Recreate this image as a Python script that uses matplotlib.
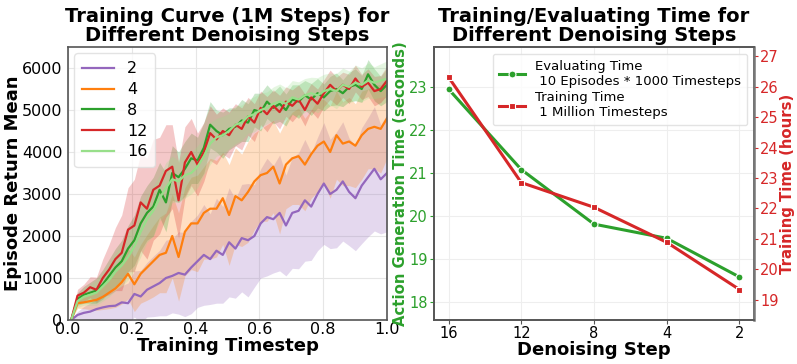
import numpy as np
import matplotlib
matplotlib.use("Agg")
import matplotlib.pyplot as plt

# ---------------- data: left panel ----------------
steps_labels = ["2", "4", "8", "12", "16"]
t = np.linspace(0.01, 1.0, 51)

mean_2 = [0, 120, 170, 200, 260, 300, 330, 340, 420, 400, 620, 560, 720, 800, 880, 1000, 1050, 1120,
          1080, 1250, 1400, 1550, 1450, 1650, 1550, 1850, 1700, 1950, 1900, 2000, 2300, 2450, 2400,
          2550, 2250, 2550, 2600, 2850, 2700, 3000, 3250, 3000, 3100, 3300, 3050, 2900, 3200, 3400,
          3600, 3350, 3500]
std_2 = [0, 80, 150, 200, 250, 300, 320, 380, 400, 480, 550, 620, 650, 720, 780, 900, 880, 980, 1000,
         1100, 1100, 1200, 1080, 1250, 1150, 1300, 1180, 1280, 1350, 1220, 1300, 1400, 1280, 1380,
         1200, 1320, 1380, 1450, 1280, 1350, 1450, 1300, 1380, 1420, 1280, 1250, 1380, 1420, 1480,
         1300, 1400]

mean_4 = [0, 400, 420, 450, 480, 550, 650, 750, 900, 1100, 850, 1100, 1250, 1400, 1550, 1600, 2000,
          1500, 2100, 2300, 2300, 2550, 2650, 2650, 2900, 2500, 2950, 2850, 3050, 3300, 3450, 3500,
          3650, 3250, 3700, 3850, 3900, 3700, 3950, 4150, 4250, 4000, 4400, 4200, 4250, 4150, 4400,
          4550, 4600, 4550, 4800]
std_4 = [0, 120, 150, 200, 250, 300, 380, 450, 520, 600, 650, 700, 780, 850, 900, 950, 1000, 1050,
         1050, 1100, 1150, 1100, 1200, 1150, 1100, 1200, 1150, 1100, 1200, 1150, 1100, 1150, 1100,
         1200, 1050, 1100, 1150, 1100, 1050, 1100, 1000, 1100, 1050, 1000, 1050, 1000, 1050, 950,
         1000, 1050, 950]

mean_8 = [0, 500, 600, 650, 700, 850, 1050, 1250, 1400, 1700, 1900, 2300, 2550, 2700, 3100, 2800,
          3500, 3400, 3600, 3850, 3800, 4100, 4650, 4500, 4400, 4550, 4600, 4750, 4700, 5000, 4950,
          5200, 5050, 5150, 5000, 5250, 5200, 5350, 5250, 5400, 5300, 5450, 5500, 5400, 5550, 5600,
          5500, 5850, 5600, 5450, 5600]
std_8 = [0, 150, 200, 250, 300, 350, 400, 450, 500, 550, 600, 650, 650, 700, 650, 700, 650, 600, 650,
         600, 550, 600, 550, 500, 550, 500, 450, 500, 450, 400, 450, 400, 380, 420, 380, 350, 400,
         350, 380, 350, 320, 350, 380, 320, 350, 380, 320, 350, 380, 350, 400]

mean_12 = [0, 580, 650, 780, 720, 1000, 1200, 1450, 1600, 2150, 2250, 2800, 2650, 3100, 3200, 3550,
           3650, 2850, 3750, 4000, 3700, 4000, 4450, 4300, 4500, 4400, 4650, 4550, 4850, 4700, 5050,
           4900, 5100, 4950, 5200, 5100, 5250, 5000, 5300, 5150, 5400, 5600, 5450, 5600, 5500, 5750,
           5550, 5650, 5450, 5500, 5700]
std_12 = [0, 150, 200, 250, 300, 450, 600, 750, 900, 1000, 1100, 1150, 1200, 1200, 1150, 1100, 1000,
          900, 850, 800, 750, 700, 650, 600, 550, 550, 500, 500, 450, 450, 400, 420, 380, 400, 350,
          380, 350, 380, 330, 350, 320, 350, 330, 300, 350, 320, 300, 330, 350, 320, 350]

mean_16 = [0, 450, 550, 600, 650, 800, 950, 1150, 1300, 1500, 1750, 2100, 2400, 2600, 2900, 3150,
           3350, 3300, 3450, 3500, 3650, 3900, 4200, 4350, 4400, 4500, 4650, 4700, 4850, 4900, 5000,
           5050, 5150, 5200, 5150, 5300, 5250, 5350, 5400, 5350, 5450, 5500, 5450, 5600, 5550, 5650,
           5600, 5700, 5650, 5700, 5750]
std_16 = [0, 150, 200, 250, 300, 350, 400, 450, 500, 550, 550, 600, 550, 600, 550, 600, 550, 500,
          550, 500, 500, 450, 500, 450, 450, 420, 450, 420, 400, 420, 400, 380, 400, 420, 380, 400,
          420, 400, 380, 420, 400, 380, 420, 400, 380, 420, 400, 420, 380, 400, 420]

means = [mean_2, mean_4, mean_8, mean_12, mean_16]
stds = [std_2, std_4, std_8, std_12, std_16]
colors = ["#9467bd", "#ff7f0e", "#2ca02c", "#d62728", "#98df8a"]

# ---------------- data: right panel ----------------
denoise_steps = ["16", "12", "8", "4", "2"]
eval_time = [22.95, 21.08, 19.81, 19.48, 18.58]
train_time = [26.31, 22.85, 22.04, 20.89, 19.34]

green = "#2ca02c"
red = "#d62728"
spine_col = "#555555"

fig = plt.figure(figsize=(7.97, 3.64), dpi=100)
ax1 = fig.add_axes([68 / 797, 44 / 364, 319 / 797, 273 / 364])
ax2 = fig.add_axes([434 / 797, 44 / 364, 320 / 797, 273 / 364])

# ---- left ----
for lab, m, s, c in zip(steps_labels, means, stds, colors):
    m = np.asarray(m, float)
    s = np.asarray(s, float)
    ax1.fill_between(t, m - s, m + s, color=c, alpha=0.25, linewidth=0)
for lab, m, c in zip(steps_labels, means, colors):
    ax1.plot(t, m, color=c, lw=1.6, label=lab)

ax1.set_xlim(0, 1.0)
ax1.set_ylim(0, 6500)
ax1.set_xticks([0.0, 0.2, 0.4, 0.6, 0.8, 1.0])
ax1.set_yticks([0, 1000, 2000, 3000, 4000, 5000, 6000])
ax1.tick_params(axis="x", labelsize=11.5, length=0, pad=1.5)
ax1.tick_params(axis="y", labelsize=11.5, length=0, pad=4)
ax1.grid(True, color="#e6e6e6", lw=0.8)
ax1.set_axisbelow(True)
ax1.set_xlabel("Training Timestep", fontsize=13, fontweight="bold", labelpad=0)
ax1.set_ylabel("Episode Return Mean", fontsize=13, fontweight="bold", labelpad=0)
ax1.set_title("Training Curve (1M Steps) for\nDifferent Denoising Steps", fontsize=14,
              fontweight="bold", pad=4, linespacing=1.0)
leg = ax1.legend(loc="upper left", fontsize=11.5, frameon=True, handlelength=2.0,
                 borderpad=0.5, labelspacing=0.36, borderaxespad=0.4)
leg.get_frame().set_edgecolor("#dddddd")
for sp in ax1.spines.values():
    sp.set_color(spine_col)
    sp.set_linewidth(1.2)

# ---- right ----
xpos = np.arange(len(denoise_steps))
ln1, = ax2.plot(xpos, eval_time, color=green, lw=2.2, marker="o", markersize=5,
                markeredgecolor="white", markeredgewidth=0.8,
                label="Evaluating Time\n 10 Episodes * 1000 Timesteps")
ax2.set_xlim(-0.2, 4.2)
ax2.set_ylim(17.58, 23.93)
ax2.set_xticks(xpos)
ax2.set_xticklabels(denoise_steps)
ax2.set_yticks([18, 19, 20, 21, 22, 23])
ax2.tick_params(axis="y", labelsize=10.5, colors=green, length=3, pad=1.5)
ax2.tick_params(axis="x", labelsize=10.5, length=3, color=spine_col, pad=1)
ax2.grid(True, color="#eeeeee", lw=0.8)
ax2.set_xlabel("Denoising Step", fontsize=13, fontweight="bold", labelpad=0)
ax2.set_ylabel("Action Generation Time (seconds)", fontsize=10.7, fontweight="bold",
               color=green, labelpad=1)
ax2.set_title("Training/Evaluating Time for\nDifferent Denoising Steps", fontsize=14,
              fontweight="bold", pad=4, linespacing=1.0)

ax3 = ax2.twinx()
ln2, = ax3.plot(xpos, train_time, color=red, lw=2.2, marker="s", markersize=4.5,
                markeredgecolor="white", markeredgewidth=0.8,
                label="Training Time\n 1 Million Timesteps")
ax3.set_ylim(18.34, 27.3)
ax3.set_yticks([19, 20, 21, 22, 23, 24, 25, 26, 27])
ax3.tick_params(axis="y", labelsize=10.5, colors=red, length=3, pad=1.5)
ax3.set_ylabel("Training Time (hours)", fontsize=10.7, fontweight="bold", color=red, labelpad=1)
for a in (ax2, ax3):
    for sp in a.spines.values():
        sp.set_color(spine_col)
        sp.set_linewidth(1.2)
ax3.spines["right"].set_linewidth(1.8)
ax3.spines["right"].set_color("#777777")

leg2 = ax3.legend([ln1, ln2], [ln1.get_label(), ln2.get_label()], loc="upper right",
                  fontsize=9.5, frameon=True, handlelength=2.0, borderpad=0.45,
                  labelspacing=0.3, borderaxespad=0.5)
leg2.get_frame().set_edgecolor("#dddddd")

fig.savefig("out.png", dpi=100)
